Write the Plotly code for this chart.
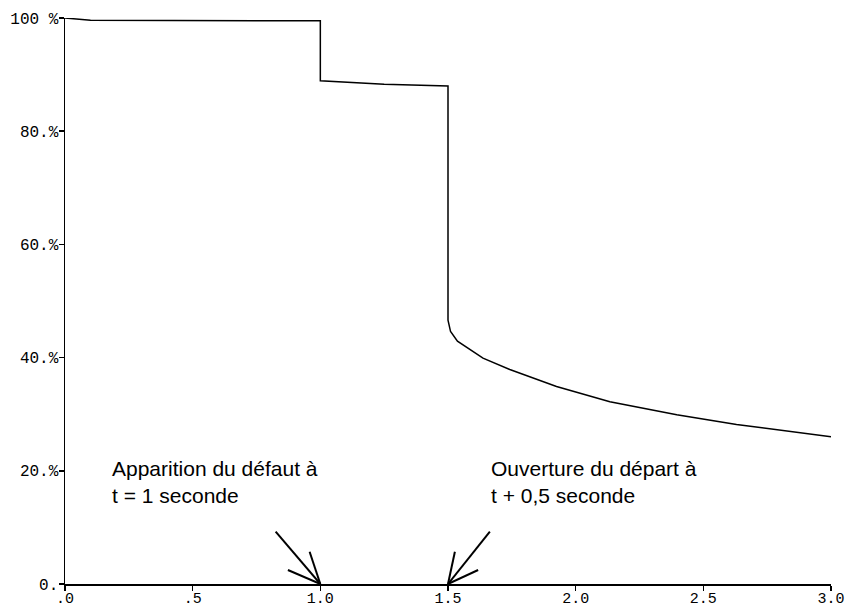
import plotly.graph_objects as go

# Data: time (s) and voltage (%)
time_s = [0.0, 0.1, 1.0, 1.0, 1.25, 1.5, 1.5, 1.51, 1.537, 1.637, 1.742, 1.925, 2.134, 2.396, 2.63, 3.0]
voltage_pct = [100.0, 99.6, 99.5, 88.9, 88.3, 88.0, 46.6, 44.6, 42.9, 39.9, 37.9, 34.9, 32.2, 29.9, 28.2, 26.0]

x_tickvals = [0.0, 0.5, 1.0, 1.5, 2.0, 2.5, 3.0]
x_ticktext = [".0", ".5", "1.0", "1.5", "2.0", "2.5", "3.0"]
y_tickvals = [0, 20, 40, 60, 80, 100]
y_ticktext = ["0.", "20.%", "40.%", "60.%", "80.%", "100 %"]

notes = [
    {"x": 0.177, "y": 22.8, "text": "Apparition du défaut à<br>t = 1 seconde"},
    {"x": 1.661, "y": 22.8, "text": "Ouverture du départ à<br>t + 0,5 seconde"},
]
# arrows: (tail_x, tail_y, tip_x, tip_y, head1_x, head1_y, head2_x, head2_y)
arrows = [
    (0.825, 9.24, 1.0, 0.0, 0.958, 5.7, 0.873, 2.47),
    (1.664, 9.24, 1.5, 0.0, 1.527, 5.7, 1.618, 2.47),
]

fig = go.Figure()
fig.add_trace(go.Scatter(x=time_s, y=voltage_pct, mode="lines",
                         line=dict(color="black", width=1.5), hoverinfo="skip",
                         showlegend=False))

shapes = []
for tx, ty, px, py, h1x, h1y, h2x, h2y in arrows:
    for (ax, ay) in [(tx, ty), (h1x, h1y), (h2x, h2y)]:
        shapes.append(dict(type="line", xref="x", yref="y", x0=ax, y0=ay, x1=px, y1=py,
                           line=dict(color="black", width=2)))

annotations = []
for n in notes:
    annotations.append(dict(x=n["x"], y=n["y"], xref="x", yref="y", text=n["text"],
                            showarrow=False, xanchor="left", yanchor="top", align="left",
                            font=dict(family="Liberation Sans, Arial", size=21, color="black")))

tickfont = dict(family="Liberation Mono", size=16, color="black")
fig.update_layout(
    width=850, height=607,
    margin=dict(l=65, r=19, t=18, b=23, autoexpand=False),
    paper_bgcolor="white", plot_bgcolor="white",
    shapes=shapes, annotations=annotations,
    xaxis=dict(range=[0, 3], tickvals=x_tickvals, ticktext=x_ticktext, automargin=False,
               showgrid=False, zeroline=False, showline=True, linecolor="black", linewidth=1.5,
               ticks="outside", ticklen=5, tickcolor="black", tickwidth=1.5,
               ticklabelstandoff=-6,
               tickfont=dict(family="Liberation Mono", size=15, color="black")),
    yaxis=dict(range=[0, 100], tickvals=y_tickvals, ticktext=y_ticktext, automargin=False,
               showgrid=False, zeroline=False, showline=True, linecolor="black", linewidth=1.5,
               ticks="outside", ticklen=5, tickcolor="black", tickwidth=1.5, ticklabelstandoff=-3,
               tickfont=tickfont),
)

fig.write_html("out.html", config={"displayModeBar": False, "staticPlot": True},
               post_script="document.body.style.margin='0px';document.body.style.overflow='hidden';")
